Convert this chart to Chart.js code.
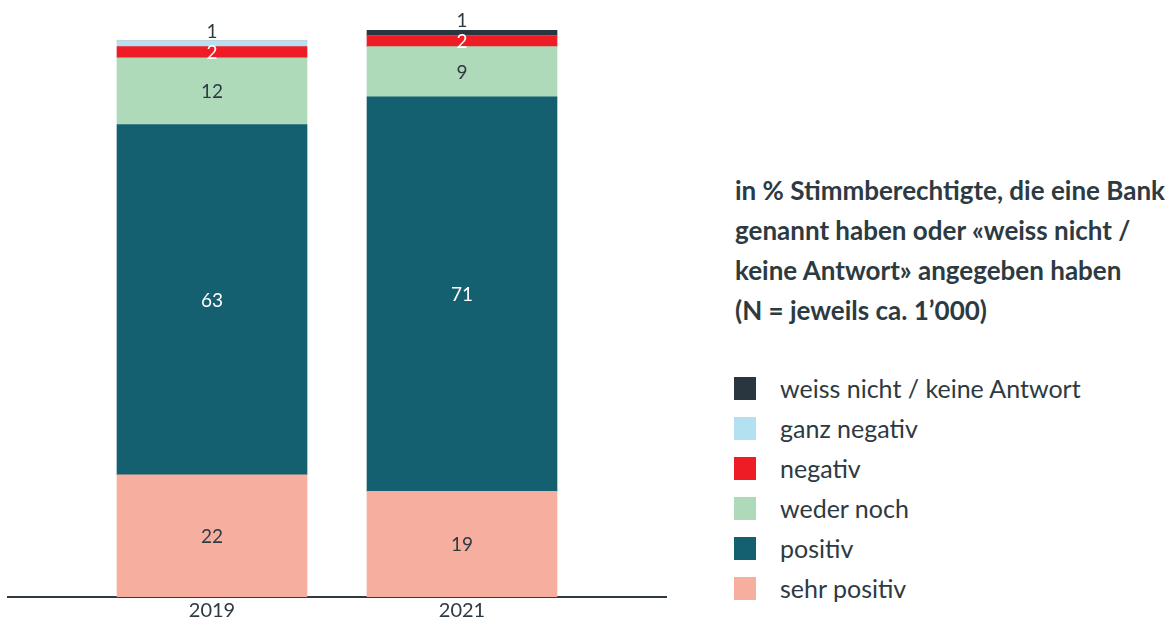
<!DOCTYPE html>
<html>
<head>
<meta charset="utf-8">
<script src="https://cdn.jsdelivr.net/npm/chart.js@4.4.1/dist/chart.umd.min.js"></script>
<style>
  body { margin: 0; background: #fff; font-family: Lato, sans-serif; color: #2d3a42; }
  #wrap { position: absolute; left: 0; top: 0; width: 670px; height: 625px; }
  #title { position: absolute; left: 735px; top: 170px; font-size: 26px; font-weight: 700; line-height: 40px; white-space: nowrap; }
  #legend { position: absolute; left: 734px; top: 368px; }
  .item { height: 40px; display: flex; align-items: center; font-size: 25px; white-space: nowrap; }
  .box { width: 22px; height: 23px; margin-right: 24px; }
</style>
</head>
<body>
<div id="wrap"><canvas id="chart"></canvas></div>
<div id="title">in % Stimmberechtigte, die eine Bank<br>genannt haben oder «weiss nicht /<br>keine Antwort» angegeben haben<br>(N = jeweils ca. 1’000)</div>
<div id="legend"></div>
<script>
var years = ['2019', '2021'];
var sehrPositiv = [22, 19];
var positiv = [63, 71];
var wederNoch = [12, 9];
var negativ = [2, 2];
var ganzNegativ = [1, 0];
var weissNicht = [0, 1];

var dark = '#2d3a42';

// bottom to top
var series = [
  { label: 'sehr positiv', values: sehrPositiv, color: '#f6ae9f', text: dark },
  { label: 'positiv', values: positiv, color: '#146070', text: '#ffffff' },
  { label: 'weder noch', values: wederNoch, color: '#afdab9', text: dark },
  { label: 'negativ', values: negativ, color: '#ee1c25', text: '#ffffff' },
  { label: 'ganz negativ', values: ganzNegativ, color: '#b3e1f2', text: dark },
  { label: 'weiss nicht / keine Antwort', values: weissNicht, color: '#29363f', text: dark }
];

var legend = document.getElementById('legend');
series.slice().reverse().forEach(function(s) {
  var row = document.createElement('div');
  row.className = 'item';
  row.innerHTML = '<div class="box" style="background:' + s.color + '"></div><span>' + s.label + '</span>';
  legend.appendChild(row);
});

var barLabels = {
  id: 'barLabels',
  afterDatasetsDraw: function(chart) {
    var ctx = chart.ctx;
    ctx.save();
    ctx.font = '19px Lato';
    ctx.textAlign = 'center';
    ctx.textBaseline = 'middle';
    chart.data.datasets.forEach(function(ds, i) {
      chart.getDatasetMeta(i).data.forEach(function(bar, j) {
        var v = ds.data[j].y;
        if (!v) return;
        var y = (bar.y + bar.base) / 2;
        ctx.fillStyle = ds.labelColor;
        if (v < 2) { y = bar.y - 10; ctx.fillStyle = dark; }
        ctx.fillText(String(v), bar.x, y + 1);
      });
    });
    ctx.restore();
  }
};

new Chart(document.getElementById('chart'), {
  type: 'bar',
  data: {
    datasets: series.map(function(s) {
      return {
        label: s.label,
        data: years.map(function(yr, k) { return { x: Number(yr), y: s.values[k] }; }),
        backgroundColor: s.color,
        labelColor: s.text,
        barThickness: 190,
        borderWidth: 0
      };
    })
  },
  options: {
    responsive: true,
    maintainAspectRatio: false,
    animation: false,
    layout: { padding: { left: 8, right: 4, top: 30, bottom: 0 } },
    plugins: { legend: { display: false }, tooltip: { enabled: false } },
    scales: {
      x: {
        type: 'linear',
        stacked: true,
        offset: false,
        min: 2017.368,
        max: 2022.632,
        afterBuildTicks: function(axis) {
          axis.ticks = years.map(function(yr) { return { value: Number(yr) }; });
        },
        grid: { display: false, drawTicks: false, offset: false },
        border: { display: true, color: dark, width: 2 },
        ticks: { color: dark, font: { family: 'Lato', size: 20, lineHeight: 1 }, padding: 4, callback: function(v) { return String(v); } }
      },
      y: { stacked: true, min: 0, max: 102, display: false }
    }
  },
  plugins: [barLabels]
});
</script>
</body>
</html>
